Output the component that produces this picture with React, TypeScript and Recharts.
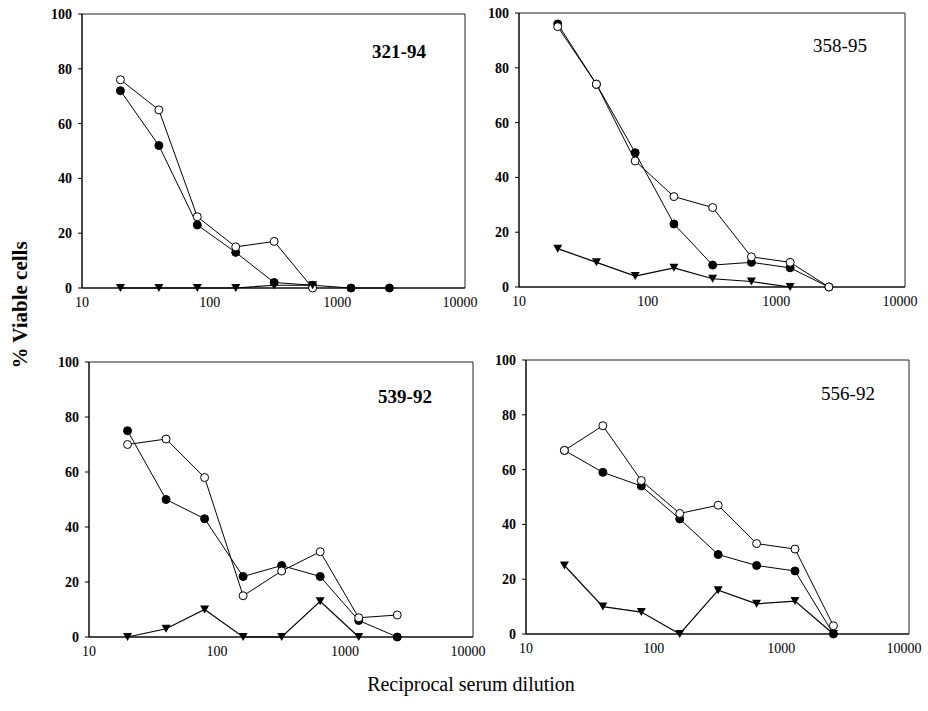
import React from "react";
import { LineChart, Line, XAxis, YAxis, ReferenceArea } from "recharts";

const dilutions = [20, 40, 80, 160, 320, 640, 1280, 2560];
const xTicks = [10, 100, 1000, 10000];
const yTicks = [0, 20, 40, 60, 80, 100];

// 321-94
const p1Filled = [72, 52, 23, 13, 2, 1, 0, 0];
const p1Open = [76, 65, 26, 15, 17, 0, null, null];
const p1Tri = [0, 0, 0, 0, 1, 1, null, null];

// 358-95
const p2Filled = [96, 74, 49, 23, 8, 9, 7, 0];
const p2Open = [95, 74, 46, 33, 29, 11, 9, 0];
const p2Tri = [14, 9, 4, 7, 3, 2, 0, null];

// 539-92
const p3Filled = [75, 50, 43, 22, 26, 22, 6, 0];
const p3Open = [70, 72, 58, 15, 24, 31, 7, 8];
const p3Tri = [0, 3, 10, 0, 0, 13, 0, null];

// 556-92
const p4Filled = [67, 59, 54, 42, 29, 25, 23, 0];
const p4Open = [67, 76, 56, 44, 47, 33, 31, 3];
const p4Tri = [25, 10, 8, 0, 16, 11, 12, 0];

const build = (filled, open, tri) =>
  dilutions.map((x, i) => ({ x, filled: filled[i], open: open[i], tri: tri[i] }));

const TriDot = (props) => {
  const { cx, cy, index } = props;
  if (cx == null || cy == null || props.value == null) return <g key={index} />;
  return (
    <path
      key={index}
      d={`M${cx - 4.5},${cy - 4} L${cx + 4.5},${cy - 4} L${cx},${cy + 4} Z`}
      fill="#000"
    />
  );
};

const XTick = ({ x, y, payload }) => (
  <text
    x={x}
    y={y}
    dy={5}
    textAnchor="middle"
    style={{ fontFamily: "Liberation Serif", fontSize: 14, fill: "#000" }}
  >
    {payload.value}
  </text>
);

const YTick = ({ x, y, payload }) => (
  <text
    x={x}
    y={y}
    dy={5}
    textAnchor="end"
    style={{ fontFamily: "Liberation Serif", fontSize: 14, fontWeight: "bold", fill: "#000" }}
  >
    {payload.value}
  </text>
);

const Panel = ({ left, top, w, h, data, label, labelX, labelY, bold }) => (
  <>
    <div style={{ position: "absolute", left: left - 50, top: top - 10 }}>
      <LineChart
        width={w + 65}
        height={h + 40}
        data={data}
        margin={{ top: 10, right: 15, left: 0, bottom: 0 }}
      >
        <XAxis
          dataKey="x"
          type="number"
          scale="log"
          domain={[10, 10000]}
          ticks={xTicks}
          allowDataOverflow
          height={30}
          stroke="#000"
          tickLine={false}
          tickSize={0}
          tickMargin={14}
          tick={XTick}
        />
        <YAxis
          type="number"
          domain={[0, 100]}
          ticks={yTicks}
          width={50}
          stroke="#000"
          tickSize={4}
          tickMargin={6}
          tick={YTick}
        />
        <ReferenceArea x1={10} x2={10000} y1={0} y2={100} fill="none" stroke="#222" strokeWidth={1} />
        <Line
          dataKey="filled"
          stroke="#000"
          strokeWidth={1}
          dot={{ r: 4, fill: "#000", stroke: "#000", strokeWidth: 1 }}
          isAnimationActive={false}
        />
        <Line
          dataKey="open"
          stroke="#000"
          strokeWidth={1}
          dot={{ r: 4, fill: "#fff", stroke: "#000", strokeWidth: 1 }}
          isAnimationActive={false}
        />
        <Line
          dataKey="tri"
          stroke="#000"
          strokeWidth={1.2}
          dot={TriDot}
          isAnimationActive={false}
        />
      </LineChart>
    </div>
    <div
      style={{
        position: "absolute",
        left: labelX - 60,
        width: 120,
        top: labelY - 12,
        textAlign: "center",
        fontSize: 19,
        fontWeight: bold ? "bold" : "normal",
        lineHeight: "24px",
      }}
    >
      {label}
    </div>
  </>
);

export default function App() {
  return (
    <div
      style={{
        position: "absolute",
        left: 0,
        top: 0,
        width: 928,
        height: 711,
        background: "#fff",
        fontFamily: "Liberation Serif",
        color: "#000",
      }}
    >
      <Panel left={82} top={14} w={383} h={274} data={build(p1Filled, p1Open, p1Tri)} label="321-94" labelX={399} labelY={52} bold />
      <Panel left={519} top={13} w={386} h={274} data={build(p2Filled, p2Open, p2Tri)} label="358-95" labelX={840} labelY={46} />
      <Panel left={89} top={362} w={384} h={275} data={build(p3Filled, p3Open, p3Tri)} label="539-92" labelX={405} labelY={397} bold />
      <Panel left={526} top={360} w={383} h={274} data={build(p4Filled, p4Open, p4Tri)} label="556-92" labelX={848} labelY={394} />
      <div
        style={{
          position: "absolute",
          left: 8,
          top: 305,
          transform: "translate(-50%, -50%) rotate(-90deg)",
          marginLeft: 12,
          whiteSpace: "nowrap",
          fontSize: 21,
          fontWeight: "bold",
        }}
      >
        % Viable cells
      </div>
      <div
        style={{
          position: "absolute",
          left: 271,
          width: 400,
          top: 673,
          textAlign: "center",
          fontSize: 20,
        }}
      >
        Reciprocal serum dilution
      </div>
    </div>
  );
}
